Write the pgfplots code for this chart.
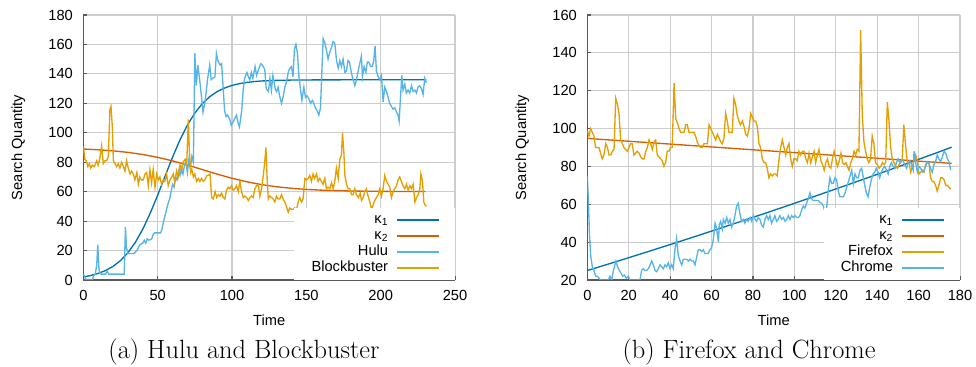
\documentclass[border=0pt]{standalone}
\usepackage{pgfplots}
\pgfplotsset{compat=1.18}
\usepackage{fontspec}
\newfontfamily\lsans{Liberation Sans}
\definecolor{kone}{RGB}{0,114,178}
\definecolor{ktwo}{RGB}{213,94,0}
\definecolor{sky}{RGB}{86,180,233}
\definecolor{amber}{RGB}{230,159,0}
\definecolor{gridc}{RGB}{205,205,205}
\definecolor{axc}{RGB}{90,90,90}
\pgfplotsset{
  myaxis/.style={
    scale only axis, height=198.75pt,
    axis x line*=bottom, axis y line*=left,
    axis line style={-, draw=axc, line width=1.1pt},
    grid=major, major grid style={draw=gridc, line width=0.9pt},
    tick align=inside, major tick length=3pt,
    tick style={draw=axc, line width=0.9pt},
    enlargelimits=false,
    /pgf/number format/assume math mode=true,
    tick label style={font=\lsans\fontsize{11}{13}\selectfont},
    label style={font=\lsans\fontsize{11}{13}\selectfont},
    xticklabel style={yshift=-4.5pt},
    yticklabel style={xshift=-4.3pt},
    xlabel style={at={([yshift=-30pt]axis description cs:0.5,0)}, anchor=center},
    ylabel style={at={([xshift=-48.75pt]axis description cs:0,0.5)}, anchor=center},
    legend plot pos=right, legend cell align=right,
    legend image code/.code={\draw[##1] (0pt,0pt) -- (32pt,0pt);},
    legend style={at={(1,0)}, anchor=south east, draw=none, fill=white,
      inner xsep=11pt, inner ysep=2.75pt,
      font=\lsans\fontsize{11}{13}\selectfont, column sep=4pt,
      nodes={inner xsep=2pt, inner ysep=0pt, text height=8.5pt, text depth=3.5pt}},
    every axis plot/.append style={no marks, line width=1pt},
  }
}
\begin{document}
\begin{tikzpicture}
\path[use as bounding box] (0,0) rectangle (732pt,275.25pt);
\begin{axis}[myaxis, at={(62.5pt,65.25pt)}, anchor=south west, width=278.8pt,
  xmin=0, xmax=250, ymin=0, ymax=180,
  xtick={0,50,...,250}, ytick={0,20,...,180},
  xlabel={Time}, ylabel={Search Quantity}]
\addplot[kone] coordinates {(0,2.1)(5,3.06)(10,4.46)(15,6.45)(20,9.27)(25,13.19)(30,18.53)(35,25.6)(40,34.56)(45,45.4)(50,57.6)(55,70.6)(60,83.4)(65,95.2)(70,105.3)(75,113.4)(80,119.8)(85,124.5)(90,128.0)(95,130.4)(100,132.2)(105,133.4)(110,134.2)(115,134.8)(120,135.2)(130,135.6)(140,135.8)(160,135.95)(230.7,136)};
\addlegendentry{κ\textsubscript{1}}
\addplot[ktwo] coordinates {(0,88.97)(10,88.46)(20,87.72)(30,86.68)(40,85.23)(50,83.32)(60,80.91)(70,78.08)(80,75)(90,71.92)(100,69.09)(110,66.68)(120,64.77)(130,63.32)(140,62.28)(150,61.54)(160,61.03)(170,60.69)(180,60.46)(190,60.3)(200,60.2)(210,60.13)(220,60.09)(230,60.06)};
\addlegendentry{κ\textsubscript{2}}
\addplot[sky] coordinates {(0,4)(1,2)(2,0)(4,0)(6,0)(7,3)(8,4)(9,10)(9.7,24)(10.5,8)(11,5)(12,4)(14,4)(15,4)(16,6)(17,4)(20,4)(24,4)(27.5,4)(28.3,36)(29,22)(30,18)(32,18)(34,18)(36,20)(38,24)(40,25)(41,27)(42,25)(43,28)(44,27)(46,28)(47,31)(48,32)(50,32)(52,32)(53,35)(54,40)(55,44)(56,48)(57,52)(58,55)(59,60)(60,65)(61,63)(62,70)(63,68)(64,74)(65,71)(66,76)(67,72)(68,78)(69,80)(70,73)(71,82)(72,76)(73,84)(74,80)(75,154)(76,132)(77,146)(78,138)(79,129)(80.5,114)(82,122)(83.5,136)(85,146)(86,136)(87,137)(88.5,138)(89.5,154)(90.5,149)(92,146)(93,147)(94,131)(95,115)(96,111)(97,112)(98.5,109)(99.5,105)(101,108)(102,110)(103,112)(104,107)(105,104)(106.5,115)(107.5,129)(108.5,137)(110,141)(111,138)(112,136)(113,141)(114,137)(115.5,145)(116.5,139)(117.5,142)(118.5,145)(119.5,147)(121,145)(122,143)(123,130)(124.5,128)(125.5,137)(126.5,129)(127.5,139)(129,130)(130,128)(131,131)(132,125)(133.3,120)(134.5,125)(135.5,131)(136.5,134)(138,142)(139,144)(140,145)(141,138)(142,157)(143,160)(144,154)(145,138)(146,130)(147,122)(148.3,131)(149.4,124)(150.5,125)(151.7,123)(152.8,120)(154,122)(155,120)(156,117)(157.3,115)(158.4,112)(159.5,117)(160.2,136)(161.3,164)(162.4,161)(163.5,156)(164.6,150)(165.8,155)(166.9,158)(168,162)(169.1,161)(170.3,149)(171.4,144)(172.5,149)(173.6,145)(174.7,150)(175.9,141)(177,142)(178,149)(179,148)(180.4,140)(181.5,136)(182.6,132)(183.7,136)(184.8,142)(185.9,147)(187,152)(187.7,138)(188.8,145)(190,141)(191,148)(192,148)(193.3,145)(194.3,145)(195.3,149)(196.2,159)(197.1,142)(198.3,138)(199.4,136)(200.5,139)(201.6,121)(202.7,131)(203.9,128)(205,124)(206,120)(207.2,118)(208.3,116)(209.5,117)(210.6,114)(211.7,112)(212.4,108)(213.3,124)(214.2,139)(215,129)(216.2,133)(217.3,127)(218.4,129)(219.5,127)(220.7,132)(221.8,128)(223,129)(224,127)(225.1,131)(226.2,132)(227.4,130)(228.5,126)(229.6,137)(230.7,134)};
\addlegendentry{Hulu}
\addplot[amber] coordinates {(0,91)(1,82)(2,81)(3,77)(4,79)(5,76)(6,78)(7.5,77)(9,81)(10,78)(11,82)(12.3,91)(13.4,79)(14.5,81)(15.7,81)(16.8,84)(17.9,116)(18.6,118)(19.5,104)(20.2,81)(21.3,79)(22.4,77)(23.5,79)(24.6,76)(25.8,80)(27,77)(28,74)(29.1,81)(30.2,76)(31.4,72)(32.5,74)(33.6,72)(34.7,68)(36,73)(37,65)(38,70)(39,68)(40.3,68)(41.5,72)(42.6,73)(43.7,64)(44.8,75)(45.9,66)(47,75)(48.2,63)(49.3,72)(50.4,68)(51.5,70)(52.6,65)(53.8,68)(54.9,67)(56,72)(57.1,64)(58.3,68)(59.4,70)(60.5,72)(61.5,66)(62.7,74)(63.8,70)(65,78)(66,74)(67,80)(68.5,82)(69.5,78)(70.6,109)(71.3,88)(72.2,73)(73,75)(74,70)(75,72)(76.2,67)(77.4,69)(78.4,67)(79.5,69)(80.7,67)(81.8,68)(83,71)(84.1,71)(85.2,72)(86.3,56)(87.4,55)(88.6,60)(89.7,56)(90.8,58)(91.9,57)(93,59)(94.1,56)(95.2,55)(96.3,61)(97.4,63)(98.6,62)(99.7,64)(100.8,61)(101.9,62)(103,64)(104.2,60)(105.3,67)(106.4,60)(107.6,56)(108.7,57)(109.8,56)(111,54)(112,56)(113.1,57)(114.2,56)(115.4,62)(116.5,64)(117.6,65)(118.7,57)(119.9,62)(121,71)(122,80)(122.8,90)(123.7,67)(124.4,55)(125.5,57)(126.6,56)(127.7,55)(128.8,53)(129.9,57)(131,55)(132.2,55)(133.3,58)(134.4,55)(135.5,53)(136.6,50)(137.8,46)(138.9,49)(140,48)(141.1,48)(142.2,49)(143.4,48)(144.5,53)(145.6,56)(146.7,53)(147.8,55)(149,69)(150.1,68)(151.2,69)(152.3,71)(153.4,67)(154.5,72)(155.6,69)(156.8,72)(157.9,67)(159,69)(160.1,67)(161.2,65)(162.4,69)(163.5,62)(164.6,63)(165.8,62)(166.9,66)(168,62)(169.1,67)(170.2,76)(171.4,69)(172.5,82)(173.6,85)(174.3,100)(175.2,87)(175.9,71)(177,65)(178.1,62)(179.2,62)(180.4,58)(181.5,58)(182.6,62)(183.7,58)(185,56)(186.2,59)(187.1,54)(188.2,56)(189.3,60)(190.4,62)(191.5,57)(192.7,53)(193.8,48)(194.9,51)(196,54)(197.1,56)(198.3,58)(199.4,62)(200.5,57)(201.6,62)(202.7,71)(203.9,67)(205,65)(206.1,63)(207.2,56)(208.3,60)(209.5,62)(210.6,64)(211.7,68)(212.8,70)(213.9,67)(215,64)(216.2,62)(217.3,65)(218.4,61)(219.6,64)(220.7,62)(221.8,65)(223,53)(224.1,56)(225.2,58)(226.3,62)(227,72)(228.1,67)(229,53)(229.7,51)(230.8,50)};
\addlegendentry{Blockbuster}
\end{axis}
\begin{axis}[myaxis, at={(440.5pt,65.25pt)}, anchor=south west, width=279.5pt,
  xmin=0, xmax=180, ymin=20, ymax=160,
  xtick={0,20,...,180}, ytick={20,40,...,160},
  xlabel={Time}, ylabel={Search Quantity}]
\addplot[kone] coordinates {(0,25)(10,28.37)(20,31.78)(30,35.23)(40,38.72)(50,42.25)(60,45.82)(70,49.43)(80,53.08)(90,56.77)(100,60.5)(110,64.27)(120,68.08)(130,71.93)(140,75.82)(150,79.75)(160,83.72)(170,87.73)(176,90.16)};
\addlegendentry{κ\textsubscript{1}}
\addplot[ktwo] coordinates {(0,94.8)(20,93.3)(40,91.8)(60,90.3)(80,88.8)(100,87.3)(120,85.8)(140,84.3)(160,82.8)(176,81.6)};
\addlegendentry{κ\textsubscript{2}}
\addplot[amber] coordinates {(0,99)(0.8,96)(1.6,100)(2.4,98)(3.2,96)(4,90)(4.8,90)(5.6,90)(6.4,87)(7.2,84)(8,86)(8.9,92)(9.7,90)(10.5,86)(11.3,86)(12.1,88)(12.9,89)(13.7,116)(14.5,113)(15.3,108)(16.1,94)(16.9,92)(17.7,90)(18.5,89)(19.3,88)(20.1,90)(20.9,92)(21.7,92)(22.5,86)(23.3,87)(24.1,88)(25,87)(25.8,85)(26.6,84)(27.4,84)(28.2,88)(29,90)(29.8,94)(30.6,92)(31.4,89)(32.2,93)(33,94)(33.8,86)(34.6,85)(35.4,84)(36.2,83)(37,80)(37.8,82)(38.6,88)(39.4,88)(40.2,90)(41,90)(41.9,124)(42.7,105)(43.5,103)(44.3,100)(45.1,98)(45.9,98)(46.7,98)(47.5,102)(48.3,102)(49.1,98)(49.9,98)(50.7,98)(51.5,98)(52.3,96)(53.1,93)(53.9,91)(54.7,90)(55.5,90)(56.3,92)(57.1,92)(58,92)(58.8,102)(59.6,100)(60.4,98)(61.2,96)(62,94)(62.8,97)(63.6,95)(64.4,93)(65.2,92)(66,95)(66.8,108)(67.6,104)(68.4,98)(69.2,98)(70,98)(70.8,116)(71.6,113)(72.4,107)(73.2,104)(74,102)(74.9,104)(75.7,101)(76.5,97)(77.3,96)(78.1,100)(78.9,108)(79.7,106)(80.5,104)(81.3,104)(82.1,101)(82.9,92)(83.7,90)(84.5,84)(85.3,82)(86.1,82)(86.9,79)(87.7,74)(88.5,76)(89.4,75)(90.1,76)(90.9,76)(91.7,75)(92.6,84)(93.4,90)(94.2,94)(95,90)(95.8,86)(96.6,90)(97.4,92)(98.2,84)(99,80)(99.8,84)(100.6,84)(101.4,83)(102.2,88)(103,86)(103.9,88)(104.7,88)(105.5,84)(106.3,82)(107.1,87)(107.9,82)(108.7,85)(109.5,88)(110.3,82)(111.1,86)(111.9,89)(112.8,83)(113.6,81)(114.4,78)(115.2,82)(116,84)(116.8,80)(117.6,79)(118.4,84)(119.2,88)(120,84)(120.8,80)(121.7,83)(122.5,87)(123.3,82)(124.1,81)(124.9,82)(125.6,80)(126.4,78)(127.2,82)(128,84)(128.8,88)(129.6,86)(130.4,89)(131.2,88)(132,152)(132.8,107)(133.6,93)(134.4,88)(135.2,84)(136,82)(136.8,84)(137.6,96)(138.4,92)(139.2,82)(140,81)(140.9,79)(141.7,80)(142.5,82)(143.3,81)(144.1,82)(144.9,114)(145.7,104)(146.5,90)(147.3,84)(148.1,82)(149,80)(149.8,79)(150.6,81)(151.4,82)(152.1,84)(152.9,102)(153.8,90)(154.6,82)(155.4,82)(156.2,77)(157,80)(157.8,83)(158.6,86)(159.4,83)(160.2,76)(161,77)(161.8,78)(162.6,77)(163.4,81)(164.2,82)(165,82)(165.8,74)(166.6,72)(167.4,72)(168.2,70)(169,67)(169.8,70)(170.7,74)(171.5,74)(172.3,73)(173.1,70)(173.9,70)(174.7,69)(175.5,68)};
\addlegendentry{Firefox}
\addplot[sky] coordinates {(0,75)(0.5,62)(1,45)(1.6,33)(2.4,27)(3.2,25)(4,22)(4.8,22)(5.6,21)(6.4,20)(8,20)(10.1,20)(10.9,22)(11.8,20)(12.6,25)(13.8,30)(14.6,27)(15.5,25)(16.3,23.5)(17.1,22)(17.9,22.6)(18.8,21)(19.8,22)(20.6,20)(22,20)(25.4,20)(26.2,25)(27,26)(27.8,25)(28.6,25)(29.5,26)(30.3,28)(31.1,30)(31.9,28)(32.7,25)(33.5,24.4)(34.3,26)(35.1,28)(35.9,27)(36.7,26)(37.5,28)(38.3,27)(39.1,29)(39.9,26)(40.7,28)(41.5,26)(42.3,36)(43.1,42)(43.9,33)(44.8,30)(45.6,28)(46.4,31)(47.2,31)(48,31)(48.8,30)(49.6,31)(50.4,30)(51.2,30)(52,28)(52.8,32)(53.6,36)(54.4,36)(55.2,35)(56,36)(56.8,34)(57.6,34)(58.4,34)(59.2,36)(60,37)(60.8,41)(61.7,50)(62.5,47)(63.3,40)(63.7,49)(64.4,51)(65.2,47)(65.7,52)(66.5,50)(67.3,53)(68.1,50)(68.9,52)(69.7,48)(70.5,50)(71.3,54)(72.1,59)(72.9,60.5)(73.7,55)(74.5,51)(75.3,52)(76.1,50)(76.9,52)(77.7,51)(78.6,53)(79.4,51)(80.2,54)(81,52)(81.8,51)(82.6,53)(83.4,52)(84.2,49)(85,48)(85.8,52)(86.6,54)(87.4,52)(88.2,54)(89,50)(89.8,52)(90.6,54)(91.4,51)(92.2,52)(93,54)(93.9,52)(94.7,53)(95.5,51)(96.3,52)(97.1,54)(97.9,52)(98.7,54)(99.5,53)(100.3,54)(101.1,53)(101.9,53)(102.7,54)(103.5,57)(104.3,59)(105.1,58)(105.9,60.5)(106.7,63)(107.5,66)(108.3,63)(109.1,62)(109.9,62)(110.8,62)(111.6,62)(112.4,61)(113.2,60.5)(114,59)(114.8,56)(115.6,58)(116.4,68)(117.2,74)(118,71)(118.8,71)(119.6,74)(120.4,73)(121.2,67)(122,64)(122.9,64)(123.7,64)(124.5,66)(125.3,69)(126.1,72)(126.9,75)(127.7,78)(128.5,71)(129.3,76)(130.1,74)(130.9,74)(131.7,78)(132.5,79)(133.3,74)(134,70)(134.8,66)(135.6,64)(136.4,69)(137.2,73)(138,76)(138.8,77)(139.6,79)(140.4,77)(141.2,74)(142,77)(142.9,79)(143.7,80)(144.5,78)(145.3,76)(146.1,80)(146.9,82)(147.7,80)(148.5,79)(149.3,82)(150.1,84)(150.9,82)(151.7,83)(152.5,83)(153.3,81)(154.2,79)(155,82)(155.8,83)(156.6,81)(157.4,78)(157.8,88)(158.6,82)(159.4,77)(160.2,80)(161,79)(161.8,77)(162.6,78)(163.4,80)(164.2,82.5)(165,81.6)(165.8,79)(166.6,77)(167.4,81)(168.2,82.5)(169,86)(169.8,84)(170.7,82.5)(171.5,85)(172.3,88)(173.1,87)(173.9,84)(174.7,82.5)(175.5,78)};
\addlegendentry{Chrome}
\end{axis}
\node[anchor=base, font=\fontsize{19.8}{22}\selectfont] at (183pt,6pt) {(a) Hulu and Blockbuster};
\node[anchor=base, font=\fontsize{19.8}{22}\selectfont] at (561.75pt,6pt) {(b) Firefox and Chrome};
\end{tikzpicture}
\end{document}
